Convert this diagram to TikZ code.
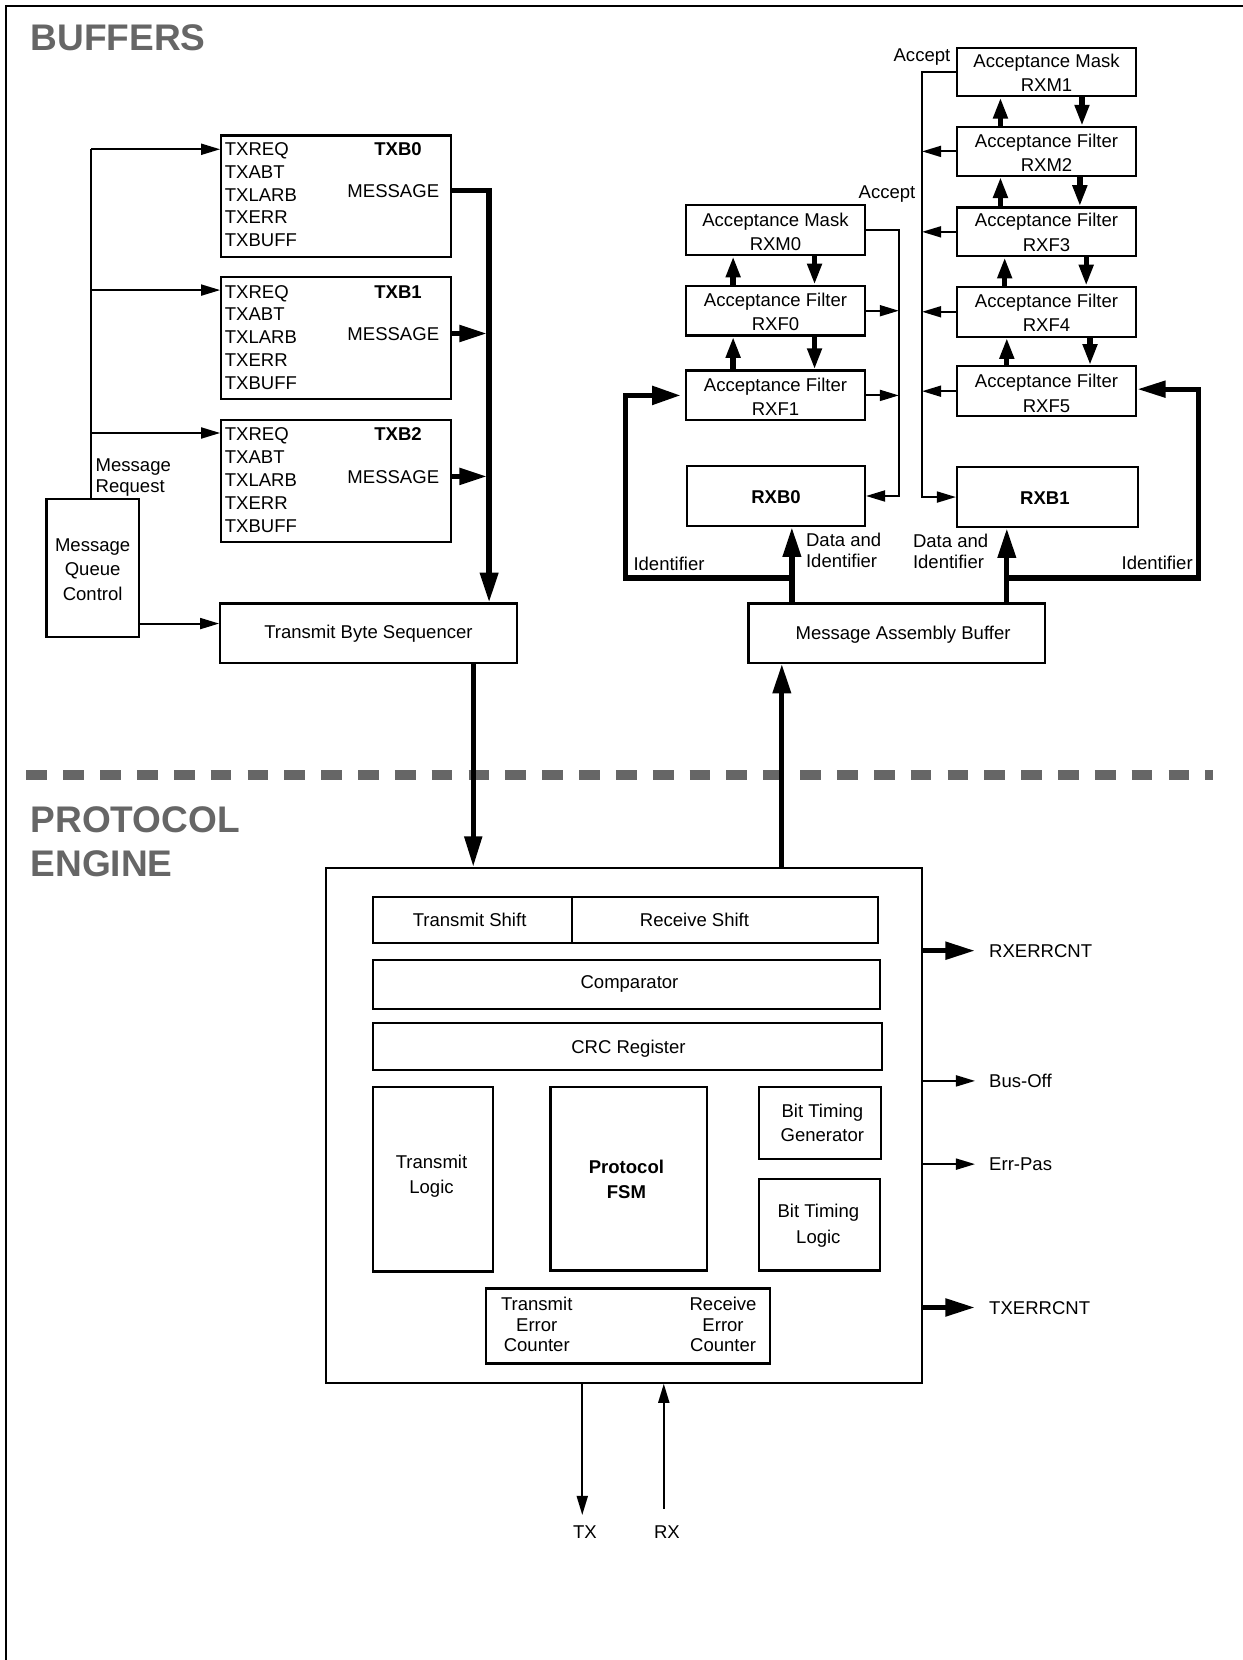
\documentclass[tikz,border=0pt]{standalone}
\usepackage{fontspec}
\setmainfont{Liberation Sans}
\usetikzlibrary{arrows.meta,fit}
\definecolor{hdrgray}{HTML}{666666}
\newcommand\fsz{\fontsize{8.75pt}{10.5pt}\selectfont}
\begin{document}
\begin{tikzpicture}[x=0.5pt,y=-0.5pt,
  bx/.style={draw, line width=1.05pt, inner sep=0pt},
  thn/.style={line width=0.9pt},
  thk/.style={line width=2.5pt, line join=miter},
  tarr/.style={-{Triangle[length=9pt,width=5.2pt]}},
  karr/.style={-{Triangle[length=14pt,width=8.3pt]}},
  marr/.style={-{Triangle[length=10pt,width=6.5pt]}},
  tx/.style={inner sep=0pt, font=\fsz, text height=6.27pt, text depth=0pt},
  btx/.style={inner sep=0pt, font=\fsz\bfseries, text height=6.27pt, text depth=0pt},
  ml/.style={inner sep=0pt, align=center, font=\fontsize{8.75pt}{#1}\selectfont},
  mll/.style={inner sep=0pt, align=left, font=\fontsize{8.75pt}{#1}\selectfont},
  hdr/.style={inner sep=0pt, anchor=west, text=hdrgray, font=\fontsize{17.5pt}{21pt}\selectfont\bfseries, text height=12.5pt, text depth=0pt},
]
\useasboundingbox (0,0) rectangle (1174,1568);
% frame
\draw[line width=1.05pt] (6,1568) -- (6,5.5) -- (1174,5.5);
% headers
\node[hdr] (hbuf) at (28.5,35) {BUFFERS};
\node[hdr] (hpro) at (28.5,774) {PROTOCOL};
\node[hdr] (heng) at (28.5,815) {ENGINE};
\draw[hdrgray, line width=4.7pt, dash pattern=on 9.8pt off 7.6pt] (25,732) -- (1146,732);

% ---------- transmit buffers ----------
\node[bx, fit={(209,128)(426,243)}] (txb0) {};
\node[bx, fit={(209,262)(426,377)}] (txb1) {};
\node[bx, fit={(209,397)(426,512)}] (txb2) {};
\node[mll=10.75pt, anchor=west] (txl0) at (212,184) {TXREQ\\TXABT\\TXLARB\\TXERR\\TXBUFF};
\node[mll=10.75pt, anchor=west] (txl1) at (212,318.5) {TXREQ\\TXABT\\TXLARB\\TXERR\\TXBUFF};
\node[mll=10.75pt, anchor=west] (txl2) at (212,453.5) {TXREQ\\TXABT\\TXLARB\\TXERR\\TXBUFF};
\node[btx] (txn0) at (376,141) {TXB0};
\node[btx] (txn1) at (376,276) {TXB1};
\node[btx] (txn2) at (376,410) {TXB2};
\node[tx] (msg0) at (371.5,180) {MESSAGE};
\node[tx] (msg1) at (371.5,315) {MESSAGE};
\node[tx] (msg2) at (371.5,450) {MESSAGE};

\node[bx, fit={(44,471)(131,602)}] (mqc) {};
\node[ml=11.5pt] (mqct) at (87.5,538) {Message\\Queue\\Control};
\node[mll=10pt, anchor=west] (mreq) at (90,450.8) {Message\\Request};
\node[bx, fit={(208,570)(488,626)}] (tbs) {};
\node[tx] (tbst) at (348,597) {Transmit Byte Sequencer};

% ---------- receive side ----------
\node[bx, fit={(904,45)(1073,91)}] (rxm1) {};
\node[bx, fit={(904,120)(1073,166)}] (rxm2) {};
\node[bx, fit={(904,196)(1073,242)}] (rxf3) {};
\node[bx, fit={(904,271)(1073,318)}] (rxf4) {};
\node[bx, fit={(904,346)(1073,393)}] (rxf5) {};
\node[bx, fit={(648,194)(817,241)}] (rxm0) {};
\node[bx, fit={(648,270)(817,317)}] (rxf0) {};
\node[bx, fit={(648,350)(817,397)}] (rxf1) {};
\node[ml=11.5pt] (rxm1t) at (988.5,68.5) {Acceptance Mask\\RXM1};
\node[ml=11.5pt] (rxm2t) at (988.5,144.5) {Acceptance Filter\\RXM2};
\node[ml=11.5pt] (rxf3t) at (988.5,219.5) {Acceptance Filter\\RXF3};
\node[ml=11.5pt] (rxf4t) at (988.5,295.5) {Acceptance Filter\\RXF4};
\node[ml=11.5pt] (rxf5t) at (988.5,371.5) {Acceptance Filter\\RXF5};
\node[ml=11.5pt] (rxm0t) at (732.5,219) {Acceptance Mask\\RXM0};
\node[ml=11.5pt] (rxf0t) at (732.5,294.5) {Acceptance Filter\\RXF0};
\node[ml=11.5pt] (rxf1t) at (732.5,374.5) {Acceptance Filter\\RXF1};
\node[bx, fit={(649,440)(817,497)}] (rxb0) {};
\node[bx, fit={(904,441)(1075,498)}] (rxb1) {};
\node[btx] (rxb0t) at (733,469) {RXB0};
\node[btx] (rxb1t) at (987,470) {RXB1};
\node[bx, fit={(707,570)(987,626)}] (mab) {};
\node[tx] (mabt) at (853,598) {Message Assembly Buffer};

\node[tx, anchor=east] (acc1) at (898,52) {Accept};
\node[tx, anchor=east] (acc0) at (865,181) {Accept};
\node[tx, anchor=west] (idl) at (598,533) {Identifier};
\node[mll=10pt, anchor=west] (dil) at (761,520) {Data and\\Identifier};
\node[mll=10pt, anchor=west] (dir) at (862,521) {Data and\\Identifier};
\node[tx, anchor=east] (idr) at (1127,532) {Identifier};

% ---------- protocol engine ----------
\node[bx, fit={(308,820)(871,1306)}] (pe) {};
\node[bx, fit={(352,847)(540,891)}] (tsh) {};
\node[bx, fit={(540,847)(829,891)}] (rsh) {};
\node[tx] (tsht) at (443.6,869) {Transmit Shift};
\node[tx] (rsht) at (656,868.5) {Receive Shift};
\node[bx, fit={(352,907)(831,953)}] (cmp) {};
\node[tx] (cmpt) at (594.6,927.6) {Comparator};
\node[bx, fit={(352,966)(833,1011)}] (crc) {};
\node[tx] (crct) at (593.6,989) {CRC Register};
\node[bx, fit={(352,1027)(466,1201)}] (tlog) {};
\node[ml=12.25pt] (tlogt) at (407.6,1111) {Transmit\\Logic};
\node[bx, fit={(520,1027)(668,1200)}] (fsm) {};
\node[inner sep=0pt, align=center, font=\fontsize{8.75pt}{12pt}\selectfont\bfseries] (fsmt) at (591.7,1114) {Protocol\\FSM};
\node[bx, fit={(717,1027)(832,1095)}] (btg) {};
\node[ml=11.3pt] (btgt) at (776.8,1060.3) {Bit Timing\\Generator};
\node[bx, fit={(717,1114)(831,1200)}] (btl) {};
\node[ml=12.5pt] (btlt) at (773,1157.9) {Bit Timing\\Logic};
\node[bx, fit={(459,1217)(727,1288)}] (erc) {};
\node[ml=9.65pt] (tect) at (507,1251.2) {Transmit\\Error\\Counter};
\node[ml=9.65pt] (rect) at (683,1251.2) {Receive\\Error\\Counter};

\node[tx, anchor=west] (orx) at (934,898) {RXERRCNT};
\node[tx, anchor=west] (obo) at (934,1021) {Bus-Off};
\node[tx, anchor=west] (oep) at (934,1099.6) {Err-Pas};
\node[tx, anchor=west] (otx) at (934,1235) {TXERRCNT};
\node[tx] (txl) at (552.5,1446.6) {TX};
\node[tx] (rxl) at (630,1446.6) {RX};

% ---------- connectors: transmit ----------
\coordinate (b0) at (86,141);
\coordinate (b1) at (86,274);
\coordinate (b2) at (86,409);
\draw[thn] (mqc.north -| b0) -- (b0);
\draw[thn,tarr] (b0) -- (b0 -| txb0.west);
\draw[thn,tarr] (b1) -- (b1 -| txb1.west);
\draw[thn,tarr] (b2) -- (b2 -| txb2.west);
\coordinate (q0) at (131,589);
\draw[thn,tarr] (mqc.east |- q0) -- (tbs.west |- q0);

\coordinate (j0) at (462,180);
\coordinate (j1) at (460,315);
\coordinate (j2) at (460,450);
\draw[thk,karr] (txb0.east |- j0) -- (j0) -- (j0 |- tbs.north);
\draw[thk,-{Triangle[length=13pt,width=7.5pt]}] (txb1.east |- j1) -- (j1);
\draw[thk,-{Triangle[length=13pt,width=7.5pt]}] (txb2.east |- j2) -- (j2);
\coordinate (j3) at (447,0);
\draw[thk,-{Triangle[length=14.5pt,width=8pt]}] (tbs.south -| j3) -- (pe.north -| j3);

% ---------- connectors: receive ----------
\coordinate (j4) at (738.5,0);
\draw[thk,karr] (pe.north -| j4) -- (mab.south -| j4);
\coordinate (k0) at (748,546);
\coordinate (k1) at (591,546);
\coordinate (k2) at (951,546);
\coordinate (k3) at (1132,546);
\coordinate (k4) at (1132,367.6);
\draw[thk,karr] (mab.north -| k0) -- (rxb0.south -| k0);
\draw[thk,karr] (mab.north -| k2) -- (rxb1.south -| k2);
\draw[thk,-{Triangle[length=13.5pt,width=8.5pt]}, shorten >=2pt] (k0) -- (k1) -- (k1 |- rxf1.west) -- (rxf1.west);
\draw[thk,-{Triangle[length=13.5pt,width=7.5pt]}] (k2) -- (k3) -- (k4) -- (k4 -| rxf5.east);

% acceptance chain arrows
\coordinate (ul) at (692.5,0);
\coordinate (dl) at (769.4,0);
\draw[thk,marr] (rxf0.north -| ul) -- (rxm0.south -| ul);
\draw[thk,marr] (rxm0.south -| dl) -- (rxf0.north -| dl);
\draw[thk,marr] (rxf1.north -| ul) -- (rxf0.south -| ul);
\draw[thk,marr] (rxf0.south -| dl) -- (rxf1.north -| dl);
\coordinate (u1) at (945,0);
\coordinate (u2) at (945,0);
\coordinate (u3) at (949,0);
\coordinate (u4) at (951,0);
\coordinate (d1) at (1022,0);
\coordinate (d2) at (1020,0);
\coordinate (d3) at (1026,0);
\coordinate (d4) at (1029.6,0);
\draw[thk,marr] (rxm2.north -| u1) -- (rxm1.south -| u1);
\draw[thk,marr] (rxm1.south -| d1) -- (rxm2.north -| d1);
\draw[thk,marr] (rxf3.north -| u2) -- (rxm2.south -| u2);
\draw[thk,marr] (rxm2.south -| d2) -- (rxf3.north -| d2);
\draw[thk,marr] (rxf4.north -| u3) -- (rxf3.south -| u3);
\draw[thk,marr] (rxf3.south -| d3) -- (rxf4.north -| d3);
\draw[thk,marr] (rxf5.north -| u4) -- (rxf4.south -| u4);
\draw[thk,marr] (rxf4.south -| d4) -- (rxf5.north -| d4);

% accept lines
\coordinate (av1) at (871,0);
\draw[thn,tarr] (rxm1.west) -- (rxm1.west -| av1) -- (rxb1.west -| av1) -- (rxb1.west);
\draw[thn,tarr] (rxm2.west) -- (rxm2.west -| av1);
\draw[thn,tarr] (rxf3.west) -- (rxf3.west -| av1);
\draw[thn,tarr] (rxf4.west) -- (rxf4.west -| av1);
\draw[thn,tarr] (rxf5.west) -- (rxf5.west -| av1);
\coordinate (av0) at (849,0);
\draw[thn,tarr] (rxm0.east) -- (rxm0.east -| av0) -- (rxb0.east -| av0) -- (rxb0.east);
\draw[thn,tarr] (rxf0.east) -- (rxf0.east -| av0);
\draw[thn,tarr] (rxf1.east) -- (rxf1.east -| av0);

% ---------- outputs ----------
\coordinate (o1) at (921,898);
\coordinate (o2) at (921,1021);
\coordinate (o3) at (921,1099.6);
\coordinate (o4) at (921,1235);
\draw[thk,-{Triangle[length=14pt,width=8pt]}] (pe.east |- o1) -- (o1);
\draw[thn,tarr] (pe.east |- o2) -- (o2);
\draw[thn,tarr] (pe.east |- o3) -- (o3);
\draw[thk,-{Triangle[length=14pt,width=8pt]}] (pe.east |- o4) -- (o4);
\coordinate (txe) at (550,1431);
\coordinate (rxs) at (627,1425);
\draw[thn,tarr] (pe.south -| txe) -- (txe);
\draw[thn,tarr] (rxs) -- (pe.south -| rxs);
\end{tikzpicture}
\end{document}
